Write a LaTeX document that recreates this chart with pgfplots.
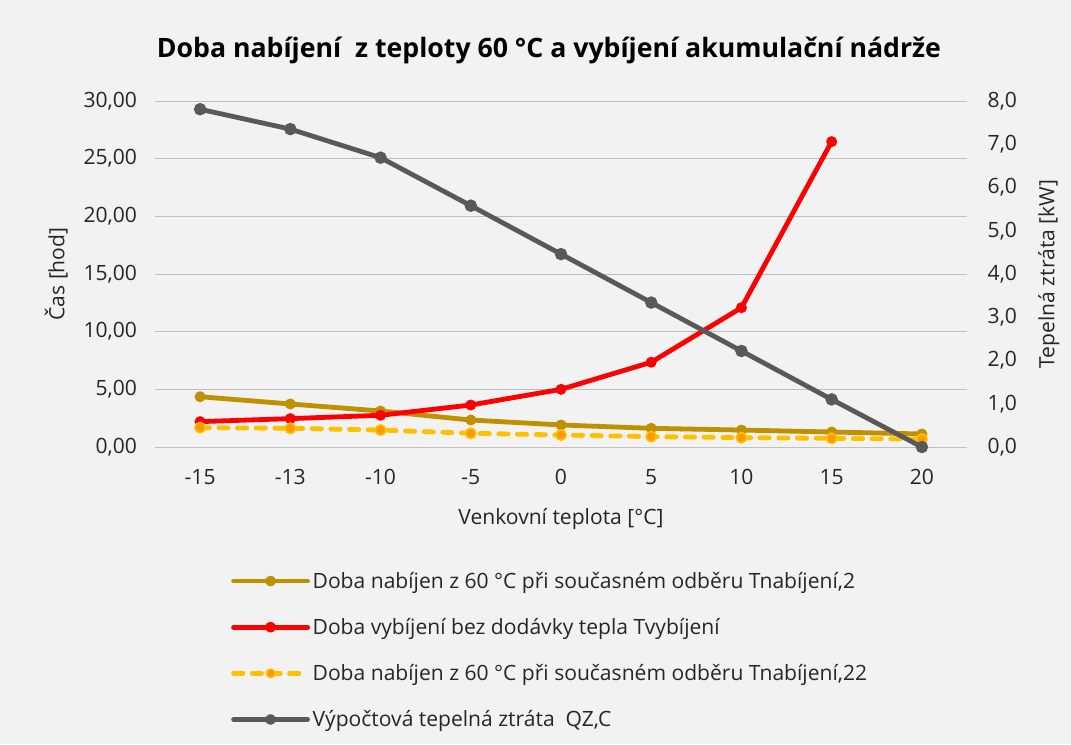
\documentclass[border=0pt]{standalone}
\usepackage{pgfplots}
\pgfplotsset{compat=1.18}
\usepackage{fontspec}
\setmainfont{Open Sans}
\definecolor{bg}{HTML}{F2F2F2}
\definecolor{grid}{HTML}{D9D9D9}
\definecolor{gold}{HTML}{BF9000}
\definecolor{yel}{HTML}{FFC000}
\definecolor{org}{HTML}{FF9900}
\definecolor{dgray}{HTML}{595959}
\definecolor{txt}{HTML}{262626}
\begin{document}
\begin{tikzpicture}[x=0.75pt,y=0.75pt]
\fill[bg] (0,0) rectangle (1071,744);
\node[font=\bfseries\fontsize{20}{24}\selectfont, text=black] at (549,694) {Doba nabíjení\ \ z teploty 60 °C a vybíjení akumulační nádrže};
\pgfplotsset{
  common/.style={
    scale only axis, width=609pt, height=259.5pt,
    at={(155*0.75pt,297*0.75pt)}, anchor=south west,
    xmin=-0.5, xmax=8.5, xtick={0,...,8},
    xticklabels={-15,-13,-10,-5,0,5,10,15,20},
    ymin=0, xmajorgrids=false,
    axis line style={draw=none}, tick style={draw=none},
    tick label style={font=\fontsize{15.8}{18}\selectfont, text=txt},
    label style={font=\fontsize{15.8}{18}\selectfont, text=txt},
    /pgf/number format/assume math mode=true,
    /pgf/number format/use comma, /pgf/number format/fixed, /pgf/number format/fixed zerofill,
  },
  ln/.style={line width=3.6pt, line join=round, line cap=round},
}
\begin{axis}[common,
  axis y line*=left, axis x line*=bottom,
  ymax=30, ytick={0,5,...,30},
  yticklabel style={/pgf/number format/precision=2, xshift=-10pt},
  ymajorgrids, major grid style={grid, line width=0.75pt},
  xlabel={Venkovní teplota [°C]},
  ylabel={Čas [hod]},
  xticklabel style={yshift=-13pt},
  xlabel style={yshift=-11pt},
  ylabel style={yshift=5pt},
]
\addplot[gold, ln, mark=*, mark size=3.6pt, mark options={solid, line width=1pt}] coordinates {
(0,4.36) (1,3.73) (2,3.12) (3,2.34) (4,1.91) (5,1.62) (6,1.47) (7,1.30) (8,1.13)};
\addplot[red, ln, mark=*, mark size=3.6pt, mark options={solid, line width=1pt}] coordinates {
(0,2.20) (1,2.46) (2,2.75) (3,3.64) (4,5.00) (5,7.35) (6,12.08) (7,26.48)};
\addplot[yel, ln, dash pattern=on 7pt off 7pt, mark=*, mark size=3.9pt, mark options={solid, fill=org, draw=yel, line width=1.2pt}] coordinates {
(0,1.68) (1,1.62) (2,1.47) (3,1.19) (4,1.04) (5,0.90) (6,0.81) (7,0.75) (8,0.69)};
\end{axis}
\begin{axis}[common,
  axis y line*=right, axis x line=none,
  ymax=8, ytick={0,1,...,8},
  yticklabel style={/pgf/number format/precision=1, xshift=12pt},
  ylabel={Tepelná ztráta [kW]},
  ylabel style={yshift=-9pt},
  legend style={at={(0.0886,-0.345)}, anchor=north west, draw=none, fill=none,
    font=\fontsize{15.8}{18}\selectfont, text=txt, row sep=17pt, cells={anchor=west},
    /tikz/every odd column/.append style={column sep=0pt}},
  legend image code/.code={
    \draw[#1, mark=none] (0cm,0cm) -- (1.95cm,0cm);
    \draw[#1, solid] plot coordinates {(0.975cm,0cm)};},
]
\addlegendimage{gold, ln, mark=*, mark size=2.2pt}
\addlegendentry{Doba nabíjen z 60 °C při současném odběru Tnabíjení,2}
\addlegendimage{red, ln, mark=*, mark size=2.2pt}
\addlegendentry{Doba vybíjení bez dodávky tepla Tvybíjení}
\addlegendimage{yel, ln, dash pattern=on 7pt off 7pt, mark=*, mark size=3.3pt, mark options={fill=org, draw=yel, line width=1pt}}
\addlegendentry{Doba nabíjen z 60 °C při současném odběru Tnabíjení,22}
\addlegendimage{dgray, ln, mark=*, mark size=2.2pt}
\addlegendentry{Výpočtová tepelná ztráta\ \ QZ,C}
\addplot[dgray, ln, mark=*, mark size=4.2pt, mark options={line width=1pt}, forget plot] coordinates {
(0,7.81) (1,7.35) (2,6.69) (3,5.58) (4,4.46) (5,3.34) (6,2.22) (7,1.10) (8,0)};
\end{axis}
\end{tikzpicture}
\end{document}
